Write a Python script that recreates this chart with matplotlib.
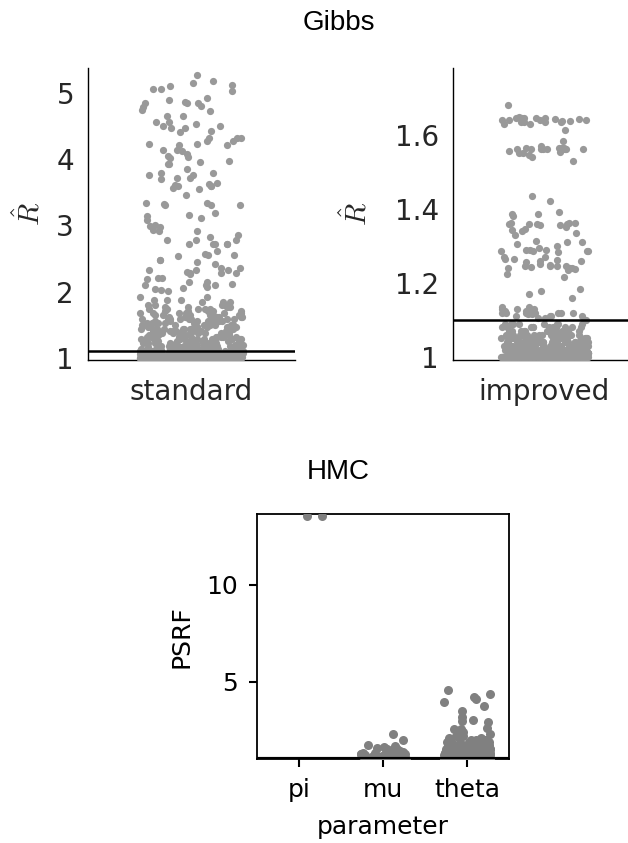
import numpy as np
import pandas as pd
import matplotlib
matplotlib.use("Agg")
import matplotlib.pyplot as plt
import seaborn as sns

# --- Gibbs, standard sampler: scattered R-hat values ---
standard_sparse = [
    5.27, 5.18, 5.10, 5.15, 5.11, 5.02, 5.06, 5.06, 4.84, 4.85, 4.78, 4.84, 4.92,
    4.89, 4.72, 4.79, 4.73, 4.84, 4.65, 4.65, 4.56, 4.42, 4.46, 4.56, 4.52, 4.50,
    4.46, 4.50, 4.40, 4.31, 4.31, 4.31, 4.27, 4.21, 4.21, 4.22, 4.27, 4.22,
    4.14, 4.14, 4.12, 4.03, 4.04, 4.02, 4.07, 3.97, 3.96, 3.93, 3.92, 3.84, 3.78,
    3.70, 3.75, 3.76, 3.71, 3.71, 3.78, 3.64, 3.59, 3.59, 3.59, 3.62, 3.61, 3.55,
    3.56, 3.46, 3.33, 3.30, 3.31, 3.32, 3.31, 3.33, 3.19, 3.16, 3.11, 3.08, 3.14,
    2.98, 3.00, 2.99, 2.93, 2.92, 2.92, 2.86, 2.82, 2.78, 2.71, 2.78, 2.78, 2.71,
    2.72, 2.72, 2.72, 2.61, 2.55, 2.55, 2.56, 2.54, 2.44, 2.47, 2.47, 2.42, 2.35,
    2.35, 2.32, 2.33, 2.33, 2.27, 2.28, 2.28, 2.28, 2.30, 2.20, 2.20, 2.19, 2.12,
    2.10, 2.04, 2.05, 2.10, 2.02, 2.10, 2.14, 2.14, 2.01, 2.07,
]
# dense part near 1: value levels and how many points sit at each
standard_band_vals = [1.00, 1.02, 1.04, 1.06, 1.08, 1.10, 1.12, 1.14, 1.16, 1.18,
                      1.20, 1.23, 1.26, 1.29, 1.32, 1.35, 1.38, 1.41, 1.44, 1.47,
                      1.50, 1.53, 1.56, 1.59, 1.62, 1.65, 1.68, 1.71, 1.74, 1.77,
                      1.80, 1.84, 1.88, 1.92]
standard_band_counts = [120, 40, 25, 20, 16, 14, 12, 12, 11, 11,
                        10, 10, 10, 10, 10, 10, 10, 9, 9, 9,
                        9, 8, 8, 8, 7, 7, 6, 6, 5, 4,
                        4, 3, 3, 2]

# --- Gibbs, improved sampler ---
improved_sparse = [
    1.68,
    1.644, 1.644, 1.644, 1.633, 1.640, 1.645, 1.640, 1.630, 1.648, 1.613, 1.640,
    1.643, 1.637, 1.633, 1.630, 1.637, 1.633, 1.644, 1.633, 1.640, 1.638, 1.642,
    1.584,
    1.560, 1.560, 1.560, 1.560, 1.560, 1.550, 1.530, 1.560, 1.565, 1.560, 1.560,
    1.565, 1.560, 1.550, 1.545, 1.565, 1.570, 1.565, 1.560, 1.539, 1.555, 1.552,
    1.434, 1.420,
    1.385, 1.380, 1.387, 1.390, 1.362, 1.362, 1.362, 1.355, 1.350, 1.340, 1.360,
    1.360, 1.343, 1.360, 1.360, 1.345, 1.335, 1.355, 1.330, 1.300, 1.295, 1.290,
    1.288, 1.285, 1.310, 1.290, 1.310, 1.305, 1.314, 1.287, 1.287, 1.287, 1.282,
    1.270, 1.265, 1.245, 1.240, 1.235, 1.225, 1.240, 1.242, 1.238, 1.245, 1.240,
    1.245, 1.248, 1.250, 1.262, 1.258, 1.270, 1.260, 1.255, 1.245, 1.265, 1.217,
    1.183, 1.178, 1.158, 1.171,
    1.130, 1.120, 1.125, 1.110, 1.135, 1.120, 1.120, 1.115, 1.120, 1.130, 1.125,
    1.120, 1.105, 1.110, 1.130, 1.120, 1.135, 1.110, 1.120, 1.105, 1.115, 1.130,
    1.100, 1.110,
]
improved_band_vals = [1.00, 1.01, 1.02, 1.03, 1.04, 1.05, 1.06, 1.07, 1.08, 1.09]
improved_band_counts = [150, 60, 45, 35, 30, 25, 20, 16, 12, 8]

# --- HMC ---
hmc_params = ["pi", "mu", "theta"]
pi_psrf = [13.55, 13.55]
mu_sparse = [2.30, 2.00, 1.70, 1.65, 1.60, 1.55, 1.55, 1.50, 1.50, 1.45, 1.40]
mu_band_vals = [1.00, 1.05, 1.10, 1.15, 1.20, 1.25, 1.30, 1.35]
mu_band_counts = [12, 8, 7, 6, 5, 4, 3, 3]
theta_sparse = [4.59, 4.35, 4.20, 4.12, 3.93, 3.73, 3.50, 3.15, 3.04, 2.95, 2.90,
                2.61, 2.56, 2.53, 2.40, 2.30, 2.25]
theta_band_vals = [1.0, 1.1, 1.2, 1.3, 1.4, 1.5, 1.6, 1.7, 1.8, 1.9, 2.0, 2.1, 2.2]
theta_band_counts = [40, 30, 25, 22, 18, 15, 12, 10, 8, 6, 4, 3, 2]

rhat_cutoff = 1.1

standard = np.concatenate([standard_sparse, np.repeat(standard_band_vals, standard_band_counts)])
improved = np.concatenate([improved_sparse, np.repeat(improved_band_vals, improved_band_counts)])
mu_psrf = np.concatenate([mu_sparse, np.repeat(mu_band_vals, mu_band_counts)])
theta_psrf = np.concatenate([theta_sparse, np.repeat(theta_band_vals, theta_band_counts)])

hmc_df = pd.DataFrame({
    "parameter": ["pi"] * len(pi_psrf) + ["mu"] * len(mu_psrf) + ["theta"] * len(theta_psrf),
    "PSRF": np.concatenate([pi_psrf, mu_psrf, theta_psrf]),
})

plt.rcParams["font.family"] = ["DejaVu Sans"]
plt.rcParams["mathtext.fontset"] = "cm"
text_col = "#262626"
np.random.seed(3)  # stripplot jitter

fig = plt.figure(figsize=(6.28, 8.43), dpi=100)

# top left: standard
ax1 = fig.add_axes([0.1401, 0.5730, 0.3296, 0.3464])
sns.stripplot(x=["standard"] * len(standard), y=standard, ax=ax1, color="#999999",
              size=5.2, jitter=0.25, linewidth=0, zorder=3)
ax1.axhline(rhat_cutoff, color="k", lw=1.8, zorder=4)
ax1.set_xlim(-0.5, 0.5)
ax1.set_ylim(0.97, 5.37)
ax1.set_yticks([1, 2, 3, 4, 5])
ax1.set_yticklabels(["1", "2", "3", "4", "5"])
ax1.set_ylabel(r"$\hat{R}$", fontsize=21, color=text_col, labelpad=8)

# top right: improved
ax2 = fig.add_axes([0.7213, 0.5730, 0.2914, 0.3464])
sns.stripplot(x=["improved"] * len(improved), y=improved, ax=ax2, color="#999999",
              size=5.2, jitter=0.24, linewidth=0, zorder=3)
ax2.axhline(rhat_cutoff, color="k", lw=1.8, zorder=4)
ax2.set_xlim(-0.5, 0.5)
ax2.set_ylim(0.992, 1.78)
ax2.set_yticks([1, 1.2, 1.4, 1.6])
ax2.set_yticklabels(["1", "1.2", "1.4", "1.6"])
ax2.set_ylabel(r"$\hat{R}$", fontsize=21, color=text_col, labelpad=16)

for ax in (ax1, ax2):
    ax.spines["top"].set_visible(False)
    ax.spines["right"].set_visible(False)
    ax.spines["left"].set_linewidth(1.0)
    ax.spines["bottom"].set_linewidth(1.0)
    ax.tick_params(length=0, labelsize=20, colors=text_col, pad=10)
    ax.tick_params(axis="x", pad=13)
    ax.set_xlabel("")

fig.text(0.54, 0.9727, "Gibbs", ha="center", va="center", fontsize=20,
         family="Liberation Sans")

# bottom: HMC
ax3 = fig.add_axes([0.4092, 0.0996, 0.4013, 0.2906])
sns.stripplot(data=hmc_df, x="parameter", y="PSRF", order=hmc_params, ax=ax3,
              color="#808080", size=6.5, jitter=0.28, linewidth=0, zorder=3)
ax3.axhline(1.0, color="k", lw=3, zorder=4)
ax3.set_xlim(-0.5, 2.5)
ax3.set_ylim(1.0, 13.65)
ax3.set_yticks([5, 10])
ax3.set_yticklabels(["5", "10"])
for s in ax3.spines.values():
    s.set_linewidth(1.3)
ax3.tick_params(length=6, width=1.5, labelsize=18, colors="k", pad=8)
ax3.set_xlabel("parameter", fontsize=18, labelpad=9)
ax3.set_ylabel("PSRF", fontsize=18, labelpad=9)

fig.text(0.538, 0.44, "HMC", ha="center", va="center", fontsize=20,
         family="Liberation Sans")

fig.savefig("out.png", dpi=100)
